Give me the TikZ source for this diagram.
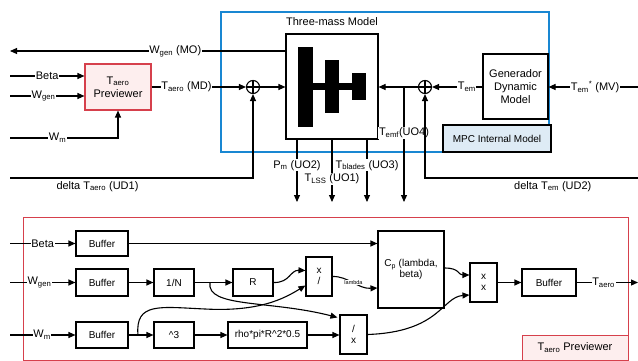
\documentclass[tikz,border=0pt]{standalone}
\usepackage{fontspec}
\setmainfont{Liberation Sans}
\usetikzlibrary{arrows.meta,calc}
\definecolor{prevred}{RGB}{214,64,76}
\definecolor{prevpink}{RGB}{253,238,238}
\definecolor{mpcblue}{RGB}{25,135,210}
\definecolor{mpcfill}{RGB}{222,235,245}
\newcommand\sbs[1]{\textsubscript{#1}}
\begin{document}
\begin{tikzpicture}[x=1pt,y=-1pt,
  arr/.style={-{Triangle[length=7pt,width=6pt]}, line width=1.1pt},
  ln/.style={line width=1.1pt},
  blk/.style={draw, line width=1.1pt, fill=white, inner sep=1pt, align=center, font=\fontsize{10}{11}\selectfont},
  lbl/.style={fill=white, inner sep=0.6pt, font=\fontsize{11}{12}\selectfont},
  slbl/.style={fill=white, inner sep=0.6pt, font=\fontsize{10}{11}\selectfont},
  dlbl/.style={inner sep=0.6pt, font=\fontsize{11}{12}\selectfont},
  sumnode/.style={circle, draw, line width=1.1pt, minimum size=13pt, inner sep=0pt}
]
\path[use as bounding box] (0,0) rectangle (638,361);

% ---------------- upper part ----------------
\draw[mpcblue, line width=1.3pt] (221,12) rectangle (549,152);
\node[dlbl] (tmlabel) at (332,22) {Three-mass Model};
\node[draw, line width=1.1pt, minimum width=92pt, minimum height=105pt] (tm) at (332,86.5) {};
\fill (298,47) rectangle (313,127);
\fill (325,60) rectangle (339,113);
\fill (352,73) rectangle (366,100);
\fill (313,83) rectangle (352,90);

\node[draw, line width=1.1pt, minimum width=65pt, minimum height=65pt, align=center, font=\fontsize{11}{13}\selectfont] (gen) at (515.5,86.5) {Generador\\Dynamic\\Model};
\node[draw, line width=1.1pt, fill=mpcfill, minimum width=108pt, minimum height=27pt, font=\fontsize{10}{11}\selectfont] (mpc) at (497,138.5) {MPC Internal Model};

\node[draw=prevred, line width=1.1pt, fill=prevpink, minimum width=66pt, minimum height=46pt, align=center, font=\fontsize{11}{13}\selectfont] (prev) at (118,87) {T\sbs{aero}\\Previewer};

\node[sumnode] (s1) at (253,87) {};
\draw[ln] (s1.north) -- (s1.south) (s1.west) -- (s1.east);
\node[sumnode] (s2) at (425,87) {};
\draw[ln] (s2.north) -- (s2.south) (s2.west) -- (s2.east);

\coordinate (moEnd) at (10,51);
\coordinate (betaIn) at (10,76);
\coordinate (wgenIn) at (10,96);
\coordinate (wmIn) at (10,138);
\coordinate (ud1In) at (10,178);
\coordinate (mvIn) at (638,87);
\coordinate (ud2In) at (638,178);
\coordinate (br) at (404,87);
\coordinate (o2) at (297,202);
\coordinate (o1) at (332,202);
\coordinate (o3) at (367,202);
\coordinate (o4) at (404,202);

\draw[arr] (tm.west |- moEnd) -- node[lbl, pos=0.4] {W\sbs{gen} (MO)} (moEnd);
\draw[arr] (betaIn) -- node[lbl, pos=0.5] {Beta} (prev.west |- betaIn);
\draw[arr] (wgenIn) -- node[lbl, pos=0.45] {W\sbs{gen}} (prev.west |- wgenIn);
\draw[arr] (wmIn) -| node[lbl, pos=0.22] {W\sbs{m}} (prev.south);
\draw[arr] (prev.east) -- node[lbl, pos=0.37] {T\sbs{aero} (MD)} (s1.west);
\draw[arr] (s1.east) -- (tm.west |- s1);
\draw[arr] (ud1In) -| node[dlbl, below=2pt, pos=0.18] {delta T\sbs{aero} (UD1)} (s1.south);

\draw[arr] (mvIn) -- node[lbl, pos=0.48] {T\sbs{em}\textsuperscript{*} (MV)} (gen.east |- mvIn);
\draw[arr] (gen.west |- s2) -- node[lbl, pos=0.31] {T\sbs{em}} (s2.east);
\draw[arr] (s2.west) -- (tm.east |- s2);
\draw[arr] (br) -- node[lbl, pos=0.4] {T\sbs{emf}(UO4)} (o4);
\draw[arr] (ud2In) -| node[dlbl, below=2pt, pos=0.2] {delta T\sbs{em} (UD2)} (s2.south);

\draw[arr] (tm.south -| o2) -- node[lbl, pos=0.41] {P\sbs{m} (UO2)} (o2);
\draw[arr] (tm.south -| o1) -- node[lbl, pos=0.63] {T\sbs{LSS} (UO1)} (o1);
\draw[arr] (tm.south -| o3) -- node[lbl, pos=0.41] {T\sbs{blades} (UO3)} (o3);

% ---------------- lower part ----------------
\draw[prevred, line width=1pt] (23,217) rectangle (628,360);
\node[draw=prevred, line width=1pt, fill=prevpink, minimum width=106pt, minimum height=25pt, font=\fontsize{11}{12}\selectfont] (plabel) at (575,347.5) {T\sbs{aero} Previewer};

\node[blk, minimum width=52pt, minimum height=25pt] (b1) at (102,243.5) {Buffer};
\node[blk, minimum width=52pt, minimum height=27pt] (b2) at (102,282.5) {Buffer};
\node[blk, minimum width=52pt, minimum height=26pt] (b3) at (102,335) {Buffer};
\node[blk, minimum width=40pt, minimum height=27pt] (inv) at (174,282.5) {1/N};
\node[blk, minimum width=40pt, minimum height=26pt] (cube) at (174,335) {\textasciicircum 3};
\node[blk, minimum width=40pt, minimum height=27pt] (R) at (253,282.5) {R};
\node[blk, minimum width=26pt, minimum height=39pt] (xd) at (319,276.5) {x\\/};
\node[blk, minimum width=79pt, minimum height=26pt] (rho) at (267.5,335) {rho*pi*R\textasciicircum 2*0.5};
\node[blk, minimum width=27pt, minimum height=39pt] (dx) at (353.5,334.5) {/\\x};
\node[blk, minimum width=66pt, minimum height=77pt] (cp) at (411,269.5) {C\sbs{p} (lambda,\\beta)};
\node[blk, minimum width=27pt, minimum height=39pt] (xx) at (483.5,282.5) {x\\x};
\node[blk, minimum width=54pt, minimum height=27pt] (b4) at (549,282.5) {Buffer};

\coordinate (lbeta) at (10,243.5);
\coordinate (lwgen) at (10,282.5);
\coordinate (lwm) at (10,335);
\coordinate (lout) at (638,282.5);
\coordinate (brN) at (210,282.5);
\coordinate (brM) at (138,335);

\draw[arr] (lbeta) -- node[lbl, pos=0.5] {Beta} (b1.west);
\draw[arr] (lwgen) -- node[lbl, pos=0.45] {W\sbs{gen}} (b2.west);
\draw[arr] (lwm) -- node[lbl, pos=0.49] {W\sbs{m}} (b3.west);

\draw[arr] (b1.east) -- (cp.west |- b1);
\draw[arr] (b2.east) -- (inv.west);
\draw[arr] (inv.east) -- (R.west);
\draw[arr] (b3.east) -- (cube.west);
\draw[arr] (cube.east) -- (rho.west);
\draw[arr] (rho.east) -- (dx.west |- rho);
\draw[arr] (xx.east) -- (b4.west);
\draw[arr] (b4.east) -- node[lbl, pos=0.44] {T\sbs{aero}} (lout);

\draw[arr] (brN) .. controls (206,308) and (270,300) .. ([xshift=-2pt,yshift=-3pt]dx.north west);
\draw[arr] (brM) .. controls (135,302) and (160,307) .. (205,309) .. controls (260,312) and (285,298) .. ([yshift=-9pt]xd.west);
\draw[arr] (R.east) .. controls (290,283) and (290,270) .. ([yshift=6pt]xd.west);
\draw[arr] (xd.east) .. controls (348,276) and (358,289) .. node[pos=0.5, fill=white, inner sep=0.3pt, font=\fontsize{5.5}{6}\selectfont] {lambda} ([yshift=-18.5pt]cp.west);
\draw[arr] ([yshift=1.5pt]cp.east) .. controls (460,268) and (458,275) .. ([yshift=7.5pt]xx.west);
\draw[arr] (dx.east) .. controls (440,332) and (442,297) .. ([yshift=-12.5pt]xx.west);
\end{tikzpicture}
\end{document}
